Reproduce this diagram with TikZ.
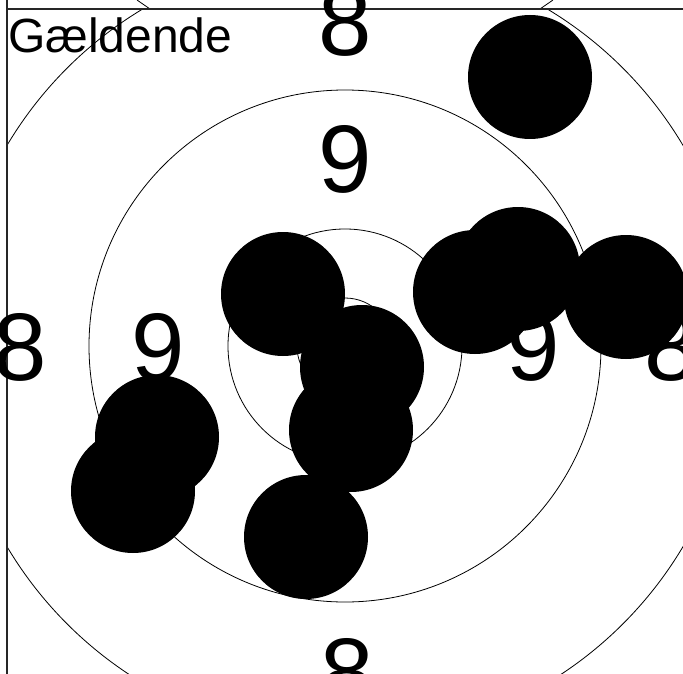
\documentclass[tikz,border=0pt]{standalone}
\usepackage{fontspec}
\setmainfont{Liberation Sans}
\usetikzlibrary{positioning}

\begin{document}
\begin{tikzpicture}[
  x=1pt, y=-1pt,
  ring/.style={line width=0.8pt, black},
  frame/.style={line width=1.4pt, black!85},
  shot/.style={circle, fill=black, minimum size=124pt, inner sep=0pt, outer sep=0pt},
  score/.style={inner sep=0pt, font=\fontsize{96}{96}\selectfont},
]
\useasboundingbox (0,0) rectangle (683,674);
\coordinate (c) at (345,346);

% Rings, clipped to the frame
\begin{scope}
  \clip (7,9) rectangle (683,674);
  \foreach \r in {48,117,256,393}{
    \draw[ring] (c) circle (\r pt);
  }
\end{scope}
\draw[ring] (137,0) -- (150,9);
\draw[ring] (540,9) -- (553,0);

% Frame
\draw[frame] (7,0) -- (7,674);
\draw[frame] (7,9) -- (683,9);

% Title
\node[anchor=base west, inner sep=0pt, font=\fontsize{48}{48}\selectfont] (title) at (8,53) {Gældende};

% Ring values
\node[score] (eightN) at (345,22) {8};
\node[score] (eightW) at (20,347) {8};
\node[score] (eightE) at (671,347) {8};
\node[score] (eightS) at (347,672) {8};
\node[score] (nineN) at (345,159) {9};
\node[score] (nineW) at (158,347) {9};
\node[score] (nineE) at (533,347) {9};

% Shots
\foreach \x/\y [count=\i] in {530/77, 283/294, 362/367, 351/430, 306/537,
                              157/437, 133/491, 475/292, 518/269, 626/297}{
  \node[shot] (shot\i) at (\x,\y) {};
}
\end{tikzpicture}
\end{document}
